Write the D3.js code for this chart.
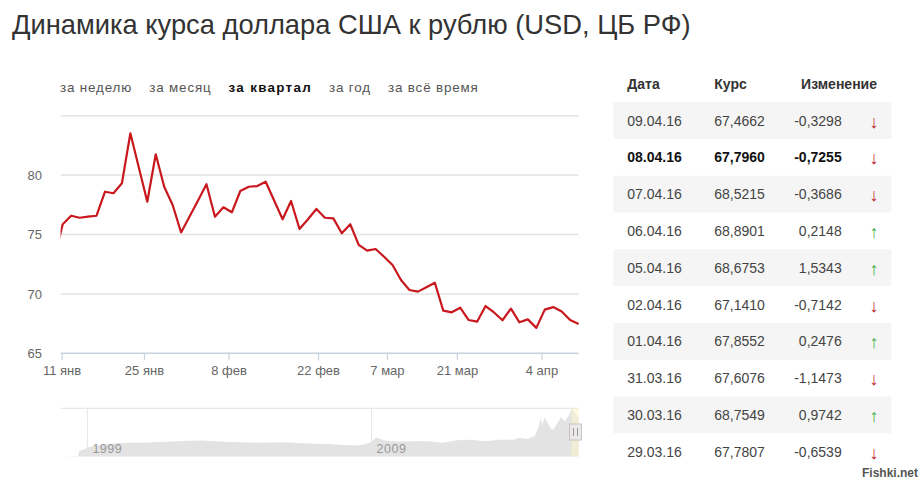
<!DOCTYPE html>
<html><head><meta charset="utf-8">
<script src="https://cdn.jsdelivr.net/npm/d3@7"></script>
<style>
body{margin:0;background:#fff;}
svg{display:block;font-family:"Liberation Sans",Arial,sans-serif;}
</style>
</head><body>
<svg id="c" width="922" height="485"></svg>
<script>
// ---------- data ----------
const title = "Динамика курса доллара США к рублю (USD, ЦБ РФ)";
const tabs = ["за неделю", "за месяц", "за квартал", "за год", "за всё время"];
const activeTab = "за квартал";

const dates = [
  "2015-12-31",
  "2016-01-12","2016-01-13","2016-01-14","2016-01-15","2016-01-16",
  "2016-01-19","2016-01-20","2016-01-21","2016-01-22","2016-01-23",
  "2016-01-26","2016-01-27","2016-01-28","2016-01-29","2016-01-30",
  "2016-02-02","2016-02-03","2016-02-04","2016-02-05","2016-02-06",
  "2016-02-09","2016-02-10","2016-02-11","2016-02-12","2016-02-13",
  "2016-02-16","2016-02-17","2016-02-18","2016-02-19","2016-02-20",
  "2016-02-21",
  "2016-02-25","2016-02-26","2016-02-27",
  "2016-03-01","2016-03-02","2016-03-03","2016-03-04","2016-03-05",
  "2016-03-10","2016-03-11","2016-03-12",
  "2016-03-15","2016-03-16","2016-03-17","2016-03-18","2016-03-19",
  "2016-03-22","2016-03-23","2016-03-24","2016-03-25","2016-03-26",
  "2016-03-29","2016-03-30","2016-03-31","2016-04-01","2016-04-02",
  "2016-04-05","2016-04-06","2016-04-07","2016-04-08","2016-04-09"
];
const rates = [
  72.93,
  75.86, 76.58, 76.41, 76.50, 76.58,
  78.60, 78.47, 79.31, 83.52, 80.64,
  77.76, 81.75, 79.02, 77.48, 75.17,
  76.52, 77.87, 79.23, 76.50, 77.29,
  76.87, 78.66, 79.02, 79.08, 79.44,
  77.86, 76.28, 77.82, 75.46, 76.28,
  77.15,
  76.41, 76.36, 75.10,
  75.86, 74.12, 73.64, 73.78, 73.13,
  72.43, 71.17, 70.33,
  70.19, 70.56, 70.94, 68.59, 68.45,
  68.84, 67.80, 67.66, 68.98, 68.4346,
  67.7807, 68.7549, 67.6076, 67.8552, 67.1410,
  68.6753, 68.8901, 68.5215, 67.7960, 67.4662
];
const rangeStart = "2016-01-09";
const rangeEnd = "2016-04-09";

const xTickDates = ["2016-01-11","2016-01-25","2016-02-08","2016-02-22","2016-03-07","2016-03-21","2016-04-04"];
const xTickLabels = ["11 янв","25 янв","8 фев","22 фев","7 мар","21 мар","4 апр"];
const yTicks = [65, 70, 75, 80, 85];
const yTickLabels = ["65", "70", "75", "80", ""];

const navYears  = [1998.071,1998.5,1998.62,1998.68,1998.72,1998.8,1998.9,1999.0,1999.5,2000.0,2000.5,2001.0,2001.5,2002.0,2002.5,2003.0,2003.5,2004.0,2004.5,2005.0,2005.5,2006.0,2006.5,2007.0,2007.5,2008.0,2008.5,2008.75,2008.9,2009.0,2009.15,2009.5,2010.0,2010.5,2011.0,2011.5,2012.0,2012.5,2013.0,2013.5,2014.0,2014.2,2014.5,2014.75,2014.88,2014.96,2015.0,2015.1,2015.3,2015.4,2015.6,2015.65,2015.72,2015.8,2015.95,2016.05,2016.15,2016.284];
const navValues = [5.97,6.2,6.3,7.9,16.0,16.0,17.9,20.65,24.2,27.0,28.1,28.2,29.1,30.1,31.4,31.8,30.4,29.4,29.0,27.8,28.6,28.8,27.0,26.3,25.8,24.5,23.4,25.0,27.5,29.4,36.4,31.3,30.2,30.5,30.5,28.0,32.2,32.8,30.4,32.7,32.7,36.0,34.0,39.4,55.0,67.8,56.2,68.9,51.0,49.5,64.0,70.0,66.0,63.0,72.9,83.6,77.0,67.5];
const navTickYears = [1999, 2009];

const tableHeaders = ["Дата", "Курс", "Изменение"];
const tableRowCount = 10;
const highlightDate = "2016-04-08";
const watermark = "Fishki.net";

// ---------- drawing ----------
const svg = d3.select("#c");
const parse = d3.timeParse("%Y-%m-%d");
const pd = dates.map(parse);

// ordinal position (points equally spaced, other dates interpolated)
function ordPos(ds) {
  const d = parse(ds);
  for (let i = 0; i < pd.length - 1; i++) {
    if (d >= pd[i] && d <= pd[i + 1]) return i + (d - pd[i]) / (pd[i + 1] - pd[i]);
  }
  return pd.length - 1;
}

const plot = {left: 60.6, right: 578.6, top: 115.7, bottom: 353.3};

// title
svg.append("text").attr("x", 12).attr("y", 34)
  .attr("font-size", 27.3).attr("fill", "#333").text(title);

// tabs
let tx = 60;
tabs.forEach(t => {
  const act = t === activeTab;
  const el = svg.append("text").attr("x", tx).attr("y", 92)
    .attr("font-size", 13.4).attr("letter-spacing", act ? 1.3 : 0.85)
    .attr("font-weight", act ? "bold" : "normal")
    .attr("fill", act ? "#111" : "#555").text(t);
  tx += el.node().getComputedTextLength() + 17;
});

const x = d3.scaleLinear().domain([ordPos(rangeStart), ordPos(rangeEnd)]).range([plot.left, plot.right]);
const y = d3.scaleLinear().domain([65, 85]).range([plot.bottom, plot.top]);

// grid
svg.append("g").selectAll("line").data(yTicks.filter(v => v !== 65)).join("line")
  .attr("x1", plot.left).attr("x2", plot.right)
  .attr("y1", d => y(d)).attr("y2", d => y(d))
  .attr("stroke", "#e3e3e3").attr("stroke-width", 1.5);

// y labels
svg.append("g").selectAll("text").data(yTicks).join("text")
  .attr("x", 42).attr("y", d => y(d)).attr("dy", "0.36em")
  .attr("text-anchor", "end").attr("font-size", 13).attr("fill", "#666")
  .text((d, i) => yTickLabels[i]);

// x axis
svg.append("line").attr("x1", plot.left).attr("x2", plot.right)
  .attr("y1", plot.bottom).attr("y2", plot.bottom).attr("stroke", "#c8d3dd").attr("stroke-width", 1.5);
const xt = svg.append("g").selectAll("g").data(xTickDates).join("g")
  .attr("transform", d => `translate(${x(ordPos(d))},0)`);
xt.append("line").attr("y1", plot.bottom).attr("y2", plot.bottom + 7).attr("stroke", "#c8d3dd").attr("stroke-width", 1.2);
xt.append("text").attr("y", plot.bottom + 22).attr("text-anchor", "middle")
  .attr("font-size", 13).attr("fill", "#666").text((d, i) => xTickLabels[i]);

// line
svg.append("clipPath").attr("id", "pc").append("rect")
  .attr("x", plot.left).attr("y", plot.top - 10).attr("width", plot.right - plot.left + 1).attr("height", plot.bottom - plot.top + 20);
svg.append("path").attr("clip-path", "url(#pc)")
  .datum(rates)
  .attr("d", d3.line().x((d, i) => x(i)).y(d => y(d)))
  .attr("fill", "none").attr("stroke", "#c8181e").attr("stroke-width", 2.2).attr("stroke-linejoin", "round");

// navigator
const nav = {left: 61, right: 578.6, top: 408.3, bottom: 456.4};
const nx = d3.scaleLinear().domain([navYears[0], navYears[navYears.length - 1]]).range([nav.left, nav.right]);
const ny = d3.scaleLinear().domain([d3.min(navValues), d3.max(navValues)]).range([nav.bottom, nav.top]);
svg.append("line").attr("x1", nav.left).attr("x2", nav.right).attr("y1", nav.top).attr("y2", nav.top)
  .attr("stroke", "#e2e2e2").attr("stroke-width", 1);
svg.append("g").selectAll("line").data(navTickYears).join("line")
  .attr("x1", d => nx(d)).attr("x2", d => nx(d)).attr("y1", nav.top).attr("y2", nav.bottom)
  .attr("stroke", "#e6e6e6").attr("stroke-width", 1);
svg.append("path").datum(navValues)
  .attr("d", d3.area().x((d, i) => nx(navYears[i])).y0(nav.bottom).y1(d => ny(d)))
  .attr("fill", "#e3e3e3");
svg.append("g").selectAll("text").data(navTickYears).join("text")
  .attr("x", d => nx(d) + 5).attr("y", nav.bottom - 3).attr("font-size", 12.5)
  .attr("fill", "#999").attr("letter-spacing", 0.5).text(d => d);
// selected range + handles
const selStart = nx(2016.03), selEnd = nav.right;
svg.append("rect").attr("x", selStart).attr("y", nav.top).attr("width", selEnd - selStart).attr("height", nav.bottom - nav.top)
  .attr("fill", "rgba(250,245,200,0.55)");
const hx = 569.5;
svg.append("rect").attr("x", hx).attr("y", 424).attr("width", 12).attr("height", 16)
  .attr("fill", "#ebe9ea").attr("stroke", "#c5c3c6").attr("stroke-width", 1);
[hx + 4, hx + 8].forEach(v => svg.append("line").attr("x1", v).attr("x2", v).attr("y1", 428).attr("y2", 436)
  .attr("stroke", "#999").attr("stroke-width", 1));

// table
const fmtDate = d3.timeFormat("%d.%m.%y");
const fmtNum = v => v.toFixed(4).replace(".", ",");
const rows = [];
for (let k = 0; k < tableRowCount; k++) {
  const i = rates.length - 1 - k;
  rows.push({date: dates[i], rate: rates[i], change: rates[i] - rates[i - 1]});
}
const tcol = {date: 627.3, rate: 714.3, change: 841.7, arrow: 874};
const hdr = svg.append("g").attr("font-size", 14).attr("font-weight", "bold").attr("fill", "#333");
hdr.append("text").attr("x", tcol.date).attr("y", 88.5).text(tableHeaders[0]);
hdr.append("text").attr("x", tcol.rate).attr("y", 88.5).text(tableHeaders[1]);
hdr.append("text").attr("x", 877).attr("y", 88.5).attr("text-anchor", "end").text(tableHeaders[2]);

const rowH = 36.8, row0 = 120.5;
const rg = svg.append("g").selectAll("g").data(rows).join("g")
  .attr("transform", (d, k) => `translate(0,${row0 + k * rowH})`);
rg.filter((d, k) => k % 2 === 0).append("rect")
  .attr("x", 613.3).attr("y", -rowH / 2).attr("width", 278).attr("height", rowH).attr("fill", "#f5f5f5");
const rt = rg.append("g").attr("font-size", 14)
  .attr("font-weight", d => d.date === highlightDate ? "bold" : "normal")
  .attr("fill", d => d.date === highlightDate ? "#111" : "#444");
rt.append("text").attr("x", tcol.date).attr("y", 5).text(d => fmtDate(parse(d.date)));
rt.append("text").attr("x", tcol.rate).attr("y", 5).text(d => fmtNum(d.rate));
rt.append("text").attr("x", tcol.change).attr("y", 5).attr("text-anchor", "end").text(d => fmtNum(d.change));
rg.append("text").attr("x", tcol.arrow).attr("y", 7).attr("text-anchor", "middle")
  .attr("font-size", 18).attr("font-weight", "normal")
  .attr("fill", d => d.change < 0 ? "#c1272d" : "#3fae3f")
  .text(d => d.change < 0 ? "↓" : "↑");

// watermark
svg.append("text").attr("x", 918).attr("y", 477).attr("text-anchor", "end")
  .attr("font-size", 12).attr("font-weight", "bold").attr("fill", "#555").text(watermark);
</script>
</body></html>
